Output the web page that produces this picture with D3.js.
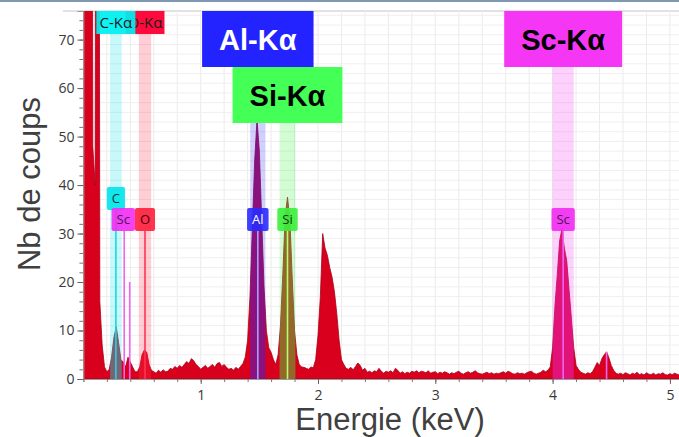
<!DOCTYPE html>
<html lang="fr">
<head>
<meta charset="UTF-8">
<title>Spectre EDS</title>
<script src="https://cdn.jsdelivr.net/npm/d3@7"></script>
<style>
  body { margin: 0; background: #fff; }
  svg { display: block; }
  .axis-title { font-family: 'Liberation Sans', Arial, sans-serif; font-size: 31px; fill: #404040; }
  .big-label { font-family: 'Liberation Sans', Arial, sans-serif; font-size: 29px; font-weight: bold; }
  .tag { font-family: 'Open Sans', sans-serif; font-size: 13px; }
  .line-name { font-family: 'Open Sans', sans-serif; font-size: 15px; fill: #1c1c1c; }
</style>
</head>
<body>
<svg width="679" height="437"></svg>
<script>
// spectrum: one value per channel, 0.02 keV wide, starting at 0 keV
const channelWidth = 0.02;
const counts = [
  400, 400, 400, 400, 48, 40, 400, 16, 7, 2.5,          // 0.00
  1.5, 2, 4.5, 8.5, 10.8, 7.5, 4, 3.5, 2.5, 4.5,         // 0.20
  3.5, 2.5, 1.5, 1.5, 2.5, 5, 6, 5.5, 3, 1.8,            // 0.40
  1.5, 1.2, 1.8, 1.4, 1.9, 1.5, 1.6, 2.2, 2.0, 2.6,      // 0.60
  2.2, 2.8, 2.4, 3.0, 3.6, 3.2, 4.2, 3.8, 3.0, 2.6,      // 0.80
  2.0, 2.4, 2.8, 2.2, 2.6, 3.0, 2.4, 3.2, 3.4, 2.6,      // 1.00
  3.0, 2.4, 2.0, 2.2, 1.8, 2.4, 2.0, 2.6, 3.2, 4.5,      // 1.20
  8, 17, 31, 45, 53.5, 47, 33, 19, 10, 6.5,              // 1.40
  5.5, 4, 3, 5, 11, 21.5, 33.5, 37.5, 33, 21,            // 1.60
  10, 5, 3, 2.5, 2.4, 2.2, 2.0, 2.5, 2.3, 4,             // 1.80
  9, 17, 30, 27, 25.5, 23, 21, 18, 13.5, 8,              // 2.00
  4, 3, 2.2, 2.0, 2.4, 1.9, 2.6, 3.3, 2.8, 1.8,          // 2.20
  2.2, 1.4, 1.6, 1.3, 1.7, 1.5, 2.2, 1.6, 1.2, 1.6,      // 2.40
  1.4, 1.7, 1.3, 2.2, 1.8, 1.2, 1.5, 1.1, 1.4, 1.2,      // 2.60
  1.6, 1.4, 1.7, 1.3, 1.6, 1.5, 1.3, 1.7, 1.2, 1.4,      // 2.80
  1.5, 1.1, 1.4, 1.2, 1.5, 1.3, 1.0, 1.3, 1.1, 1.4,      // 3.00
  1.6, 1.2, 1.0, 1.3, 1.5, 1.2, 1.4, 1.7, 1.3, 1.1,      // 3.20
  1.0, 1.2, 1.4, 1.1, 1.3, 1.0, 1.2, 1.1, 1.3, 1.5,      // 3.40
  1.2, 1.6, 1.4, 1.1, 1.0, 1.3, 1.1, 1.2, 1.0, 1.3,      // 3.60
  1.5, 1.6, 1.2, 1.0, 1.2, 1.4, 1.8, 1.5, 1.8, 2.5,      // 3.80
  6.5, 15, 21.5, 28.5, 31, 27, 24.5, 18.5, 12.5, 6.5,    // 4.00
  2.8, 2.0, 1.4, 1.2, 1.0, 1.3, 1.1, 1.5, 2.4, 3.4,      // 4.20
  2.8, 4.2, 5.0, 5.6, 4.4, 2.8, 1.8, 1.2, 1.0, 1.2,      // 4.40
  0.9, 1.3, 1.1, 0.8, 1.2, 1.0, 1.4, 0.9, 1.1, 0.8,      // 4.60
  1.3, 1.0, 0.9, 1.2, 0.8, 1.1, 1.0, 1.3, 0.9, 0.8,      // 4.80
  1.1, 0.9, 1.2, 1.0, 0.8, 1.0                           // 5.00
];

// element windows (keV)
const elements = ['C', 'O', 'Al', 'Si', 'Sc'];
const elementEnergy = [0.277, 0.525, 1.487, 1.740, 4.090];
const elementWindow = [0.10, 0.105, 0.13, 0.135, 0.18];

// line markers
const markerElement = ['C', 'Sc', 'Sc', 'O', 'Al', 'Si', 'Sc', 'Sc'];
const markerEnergy = [0.277, 0.348, 0.395, 0.525, 1.487, 1.740, 4.090, 4.460];
const markerHeight = [35, 30.5, 20, 30.5, 30.5, 30.5, 30.5, 5.6];

// small tags on the lines
const tagElement = ['C', 'Sc', 'O', 'Al', 'Si', 'Sc'];
const tagEnergy = [0.277, 0.348, 0.525, 1.487, 1.740, 4.090];

// line names at the top of the plot
const lineNames = ['O-Kα', 'C-Kα'];
const lineNameEnergy = [0.525, 0.277];

// big annotations
const bigLabels = ['Al-Kα', 'Si-Kα', 'Sc-Kα'];
const bigLabelEnergy = [1.487, 1.740, 4.090];

const yTicks = [0, 10, 20, 30, 40, 50, 60, 70];
const xTicks = [1, 2, 3, 4, 5];

const colors = {
  C: '#00e4ea', O: '#ff1f3d', Al: '#2a2aff', Si: '#3cf03c', Sc: '#f22cf2'
};
const markerColors = {
  C: '#20d4dc', O: '#ff3454', Al: '#a4a4ff', Si: '#b4ff70', Sc: '#f064f0'
};
const tagText = {
  C: '#0b3a3c', O: '#4a0010', Al: '#ffffff', Si: '#0a3a0a', Sc: '#50105a'
};

const svg = d3.select('svg');
const W = +svg.attr('width');
const plotLeft = 83.4, plotTop = 11, plotBottom = 379;

const x = d3.scaleLinear().domain([0, 5.1]).range([plotLeft, plotLeft + 5.1 * 117.3]);
const y = d3.scaleLinear().domain([0, 75.9]).range([plotBottom, plotTop]);

// screenshot header strip
svg.append('rect').attr('x', 0).attr('y', 0).attr('width', W).attr('height', 2)
  .attr('fill', '#7f97b0');
svg.append('line').attr('x1', 63).attr('x2', W).attr('y1', plotTop).attr('y2', plotTop)
  .attr('stroke', '#c4c4c4');

// grid
const grid = svg.append('g');
grid.selectAll('line.v').data(d3.range(1, 26).map(i => i / 5)).enter()
  .append('line')
  .attr('x1', d => x(d)).attr('x2', d => x(d))
  .attr('y1', plotTop).attr('y2', plotBottom)
  .attr('stroke', '#ebebeb');
grid.selectAll('line.h').data(d3.range(1, 76, 2)).enter()
  .append('line')
  .attr('x1', plotLeft).attr('x2', W)
  .attr('y1', d => y(d)).attr('y2', d => y(d))
  .attr('stroke', '#efefef');

const defs = svg.append('defs');
defs.append('clipPath').attr('id', 'plot')
  .append('rect').attr('x', plotLeft).attr('y', plotTop)
  .attr('width', W - plotLeft).attr('height', plotBottom - plotTop);

const area = d3.area()
  .x((d, i) => x(i * channelWidth))
  .y0(y(0))
  .y1(d => y(d));

const plot = svg.append('g').attr('clip-path', 'url(#plot)');

plot.append('path')
  .datum(counts)
  .attr('d', area)
  .attr('fill', '#d8001c')
  .attr('stroke', '#a8001a')
  .attr('stroke-width', 0.8);

// element windows: light band + stronger tint under the curve
elements.forEach((el, k) => {
  const x0 = x(elementEnergy[k] - elementWindow[k] / 2);
  const x1 = x(elementEnergy[k] + elementWindow[k] / 2);
  defs.append('clipPath').attr('id', 'win-' + el)
    .append('rect').attr('x', x0).attr('y', plotTop).attr('width', x1 - x0).attr('height', plotBottom - plotTop);
  plot.append('rect')
    .attr('x', x0).attr('y', plotTop).attr('width', x1 - x0).attr('height', plotBottom - plotTop)
    .attr('fill', colors[el]).attr('opacity', 0.22);
  plot.append('path')
    .datum(counts)
    .attr('d', area)
    .attr('clip-path', 'url(#win-' + el + ')')
    .attr('fill', colors[el]).attr('opacity', 0.28);
});

plot.selectAll('line.marker')
  .data(markerEnergy).enter()
  .append('line')
  .attr('x1', d => x(d)).attr('x2', d => x(d))
  .attr('y1', y(0)).attr('y2', (d, i) => y(markerHeight[i]))
  .attr('stroke', (d, i) => markerColors[markerElement[i]])
  .attr('stroke-width', 1.6);

// axes
const yMinor = svg.append('g').attr('transform', `translate(${plotLeft},0)`)
  .call(d3.axisLeft(y).tickValues(d3.range(0, 76, 2)).tickSize(4).tickFormat(''));
yMinor.select('.domain').remove();
yMinor.selectAll('line').attr('stroke', '#777');

const yAxis = svg.append('g').attr('transform', `translate(${plotLeft},0)`)
  .call(d3.axisLeft(y).tickValues(yTicks).tickSize(6).tickPadding(3));
yAxis.select('.domain').attr('stroke', '#999');
yAxis.selectAll('line').attr('stroke', '#666');
yAxis.selectAll('text')
  .attr('font-family', "'Open Sans', sans-serif").attr('font-size', 14).attr('fill', '#383838');

const xMinor = svg.append('g').attr('transform', `translate(0,${plotBottom})`)
  .call(d3.axisBottom(x).tickValues(d3.range(0, 26).map(i => i / 5)).tickSize(3).tickFormat(''));
xMinor.select('.domain').attr('stroke', '#999');
xMinor.selectAll('line').attr('stroke', '#777');

const xAxis = svg.append('g').attr('transform', `translate(0,${plotBottom})`)
  .call(d3.axisBottom(x).tickValues(xTicks).tickFormat(d3.format('d')).tickSize(5).tickPadding(6));
xAxis.select('.domain').remove();
xAxis.selectAll('line').attr('stroke', '#666');
xAxis.selectAll('text')
  .attr('font-family', "'Open Sans', sans-serif").attr('font-size', 14).attr('fill', '#383838');

// small tags
const tags = svg.append('g');
const tagBoxes = tagElement.map((el, i) => {
  const g = tags.append('g');
  const t = g.append('text').attr('class', 'tag').text(el)
    .attr('fill', tagText[el]).attr('text-anchor', 'middle');
  const w = t.node().getComputedTextLength() + 10;
  return { el, g, t, w, cx: x(tagEnergy[i]), row: el === 'C' ? 1 : 0 };
});
// push overlapping tags of the bottom row to the left
const row0 = tagBoxes.filter(b => b.row === 0).sort((a, b) => b.cx - a.cx);
for (let i = 1; i < row0.length; i++) {
  const right = row0[i].cx + row0[i].w / 2;
  const nextLeft = row0[i - 1].cx - row0[i - 1].w / 2;
  if (right > nextLeft) row0[i].cx -= right - nextLeft;
}
tagBoxes.forEach(b => {
  const y0 = b.row === 1 ? 187 : 208;
  b.g.insert('rect', 'text')
    .attr('x', b.cx - b.w / 2).attr('y', y0).attr('width', b.w).attr('height', 23)
    .attr('rx', 2).attr('fill', colors[b.el]).attr('opacity', 0.9);
  b.t.attr('x', b.cx).attr('y', y0 + 16);
});

// line names at the top (C-Kα box sits over the O-Kα one)
lineNames.forEach((name, i) => {
  const el = name.split('-')[0];
  const g = svg.append('g');
  g.append('text').attr('class', 'line-name').text(name)
    .attr('x', x(lineNameEnergy[i])).attr('y', plotTop + 17).attr('text-anchor', 'middle');
  g.insert('rect', 'text')
    .attr('x', x(lineNameEnergy[i]) - 19.5).attr('y', plotTop).attr('width', 39).attr('height', 23)
    .attr('fill', el === 'C' ? '#00f0f0' : '#ff0a3c').attr('opacity', el === 'C' ? 0.93 : 1);
});

// big annotations
bigLabels.forEach((name, i) => {
  const el = name.split('-')[0];
  const row = el === 'Si' ? 1 : 0;
  const y0 = row === 1 ? 67 : 11;
  const g = svg.append('g');
  const t = g.append('text').attr('class', 'big-label').text(name)
    .attr('x', x(bigLabelEnergy[i])).attr('y', y0 + 39).attr('text-anchor', 'middle')
    .attr('fill', el === 'Al' ? '#ffffff' : '#000000');
  const w = t.node().getComputedTextLength() + 34;
  g.insert('rect', 'text')
    .attr('x', x(bigLabelEnergy[i]) - w / 2).attr('y', y0).attr('width', w).attr('height', 56)
    .attr('fill', el === 'Al' ? '#2323ff' : el === 'Si' ? '#44ff55' : '#f537f5');
});

// axis titles
svg.append('text').attr('class', 'axis-title')
  .attr('transform', 'translate(40,184) rotate(-90)')
  .attr('text-anchor', 'middle')
  .text('Nb de coups');
svg.append('text').attr('class', 'axis-title')
  .attr('x', 390).attr('y', 430)
  .attr('text-anchor', 'middle')
  .text('Energie (keV)');
</script>
</body>
</html>
